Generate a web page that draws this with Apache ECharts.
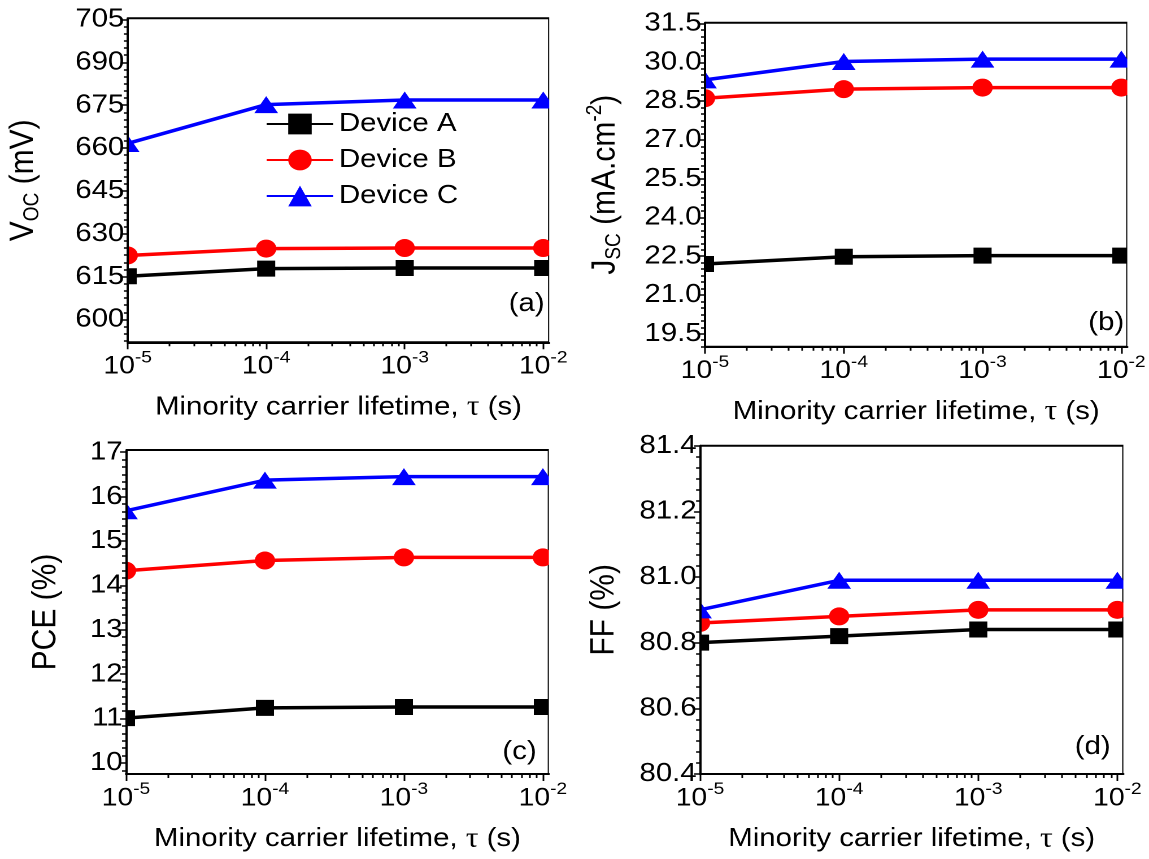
<!DOCTYPE html>
<html>
<head>
<meta charset="utf-8">
<script src="https://cdn.jsdelivr.net/npm/echarts@6/dist/echarts.min.js"></script>
<style>
  html, body { margin: 0; padding: 0; background: #fff; overflow: hidden; }
  #wrap { width: 1149px; height: 859px; overflow: hidden; }
  /* the figure is laid out on a narrower canvas and widened to the page */
  #chart { width: 1017px; height: 859px; transform: scaleX(1.12979); transform-origin: 0 0; }
</style>
</head>
<body>
<div id="wrap"><div id="chart"></div></div>
<script>
// Minority carrier lifetime (s)
const lifetimes = [1e-5, 1e-4, 1e-3, 1e-2];
const deviceNames = ['Device A', 'Device B', 'Device C'];

// (a) open-circuit voltage, mV
const vocA = [615.1, 617.8, 618.0, 618.0];
const vocB = [622.4, 624.8, 625.0, 625.0];
const vocC = [661.6, 675.2, 676.8, 676.8];

// (b) short-circuit current density, mA/cm^2
const jscA = [22.20, 22.48, 22.52, 22.52];
const jscB = [28.61, 28.96, 29.02, 29.02];
const jscC = [29.32, 30.03, 30.12, 30.12];

// (c) power conversion efficiency, %
const pceA = [11.01, 11.24, 11.26, 11.26];
const pceB = [14.33, 14.56, 14.63, 14.63];
const pceC = [15.68, 16.37, 16.45, 16.45];

// (d) fill factor, %
const ffA = [80.80, 80.82, 80.84, 80.84];
const ffB = [80.86, 80.88, 80.90, 80.90];
const ffC = [80.90, 80.99, 80.99, 80.99];

// tick labels
const xMajorExp = [-5, -4, -3, -2];
const vocTicks = [600, 615, 630, 645, 660, 675, 690, 705];
const jscTicks = [19.5, 21.0, 22.5, 24.0, 25.5, 27.0, 28.5, 30.0, 31.5];
const pceTicks = [10, 11, 12, 13, 14, 15, 16, 17];
const ffTicks = [80.4, 80.6, 80.8, 81.0, 81.2, 81.4];

const FONT = 'Liberation Sans, Arial, sans-serif';
const colors = ['#000000', '#ff0000', '#0000ff'];
const symbols = ['rect', 'circle', 'triangle'];
const symbolSizes = [16, 18, [21, 17]];

// panel layout (canvas px)
const panels = [
  { grid: { left: 113.0, top: 18.3, width: 373.1, height: 324 },
    y: { min: 592, max: 705.4, ticks: vocTicks, minorStep: 2.5, dec: 0, gap: 74.5 },
    title: '{m|V}{sub|OC}{m| (mV)}', tag: '(a)', tagPos: [482, 304],
    data: [vocA, vocB, vocC] },
  { grid: { left: 624.0, top: 22.7, width: 373.8, height: 324 },
    y: { min: 19.0, max: 31.53, ticks: jscTicks, minorStep: 0.25, dec: 1, gap: 70.5 },
    title: '{m|J}{sub|SC}{m| (mA.cm}{sup|-2}{m|)}', tag: '(b)', tagPos: [995, 323],
    data: [jscA, jscB, jscC] },
  { grid: { left: 111.5, top: 450, width: 374.3, height: 324 },
    y: { min: 9.75, max: 17.05, ticks: pceTicks, minorStep: 1 / 6, dec: 0, gap: 53 },
    title: '{m|PCE (%)}', tag: '(c)', tagPos: [475, 752],
    data: [pceA, pceB, pceC] },
  { grid: { left: 619.6, top: 445.7, width: 374.7, height: 328.3 },
    y: { min: 80.4, max: 81.4, ticks: ffTicks, minorStep: 0.2 / 6, dec: 1, gap: 67 },
    title: '{m|FF (%)}', tag: '(d)', tagPos: [983, 747],
    data: [ffA, ffB, ffC] }
];

const xMin = -5, xMax = -1.957;
const xMinor = [];
for (let e = -5; e < -2; e++) {
  for (let k = 2; k <= 9; k++) xMinor.push(Math.log10(k * Math.pow(10, e)));
}

function yMinorValues(cfg) {
  const out = [];
  const first = cfg.ticks[0];
  const step = cfg.minorStep;
  for (let i = -20; i < 400; i++) {
    const v = first + i * step;
    if (v < cfg.min - 1e-9 || v > cfg.max + 1e-9) continue;
    out.push(+v.toFixed(6));
  }
  return out;
}

const axisBlack = { color: '#000', width: 2 };
const tickLine = { color: '#000', width: 1.5 };

const grids = [], xAxes = [], yAxes = [], series = [], graphics = [];

const xTitle = '{m|Minority carrier lifetime, }{t|\u03c4}{m| (s)}';

panels.forEach((p, i) => {
  grids.push(Object.assign({
    show: true, borderColor: '#000', borderWidth: 2, backgroundColor: 'transparent'
  }, p.grid));

  // x axis with decade ticks and labels
  xAxes.push({
    type: 'value', gridIndex: i, min: xMin, max: xMax, position: 'bottom', z: 10,
    axisLine: { show: true, onZero: false, lineStyle: axisBlack },
    axisTick: { show: true, length: 7, lineStyle: tickLine, customValues: xMajorExp },
    axisLabel: {
      show: true, customValues: xMajorExp, margin: 7,
      formatter: v => '{b|10}{s|' + Math.round(v) + '}',
      rich: {
        b: { fontSize: 25, fontFamily: FONT, color: '#000', lineHeight: 35 },
        s: { fontSize: 17, fontFamily: FONT, color: '#000', lineHeight: 17, verticalAlign: 'top' }
      }
    },
    splitLine: { show: false },
    name: xTitle, nameLocation: 'middle', nameGap: 50,
    nameTextStyle: {
      rich: {
        m: { fontSize: 26, fontFamily: FONT, color: '#000', lineHeight: 30 },
        t: { fontSize: 28, fontFamily: 'Liberation Serif, serif', color: '#000', lineHeight: 30 }
      }
    }
  });
  // x axis minor ticks (2..9 within each decade)
  xAxes.push({
    type: 'value', gridIndex: i, min: xMin, max: xMax, position: 'bottom', z: 10,
    axisLine: { show: false, onZero: false },
    axisTick: { show: true, length: 4, lineStyle: tickLine, customValues: xMinor },
    axisLabel: { show: false },
    splitLine: { show: false }
  });

  const c = p.y;
  yAxes.push({
    type: 'value', gridIndex: i, min: c.min, max: c.max, position: 'left', z: 10,
    axisLine: { show: true, onZero: false, lineStyle: axisBlack },
    axisTick: { show: true, length: 5.3, lineStyle: tickLine, customValues: c.ticks },
    axisLabel: {
      show: true, customValues: c.ticks, margin: 3,
      fontSize: 26, fontFamily: FONT, color: '#000',
      formatter: v => v.toFixed(c.dec)
    },
    splitLine: { show: false },
    name: p.title, nameLocation: 'middle', nameRotate: 90, nameGap: c.gap,
    nameTextStyle: {
      rich: {
        m: { fontSize: 30, fontFamily: FONT, color: '#000', lineHeight: 36 },
        sub: { fontSize: 19, fontFamily: FONT, color: '#000', lineHeight: 36, verticalAlign: 'bottom' },
        sup: { fontSize: 19, fontFamily: FONT, color: '#000', lineHeight: 36, verticalAlign: 'top' }
      }
    }
  });
  yAxes.push({
    type: 'value', gridIndex: i, min: c.min, max: c.max, position: 'left', z: 10,
    axisLine: { show: false, onZero: false },
    axisTick: { show: true, length: 3.5, lineStyle: tickLine, customValues: yMinorValues(c) },
    axisLabel: { show: false },
    splitLine: { show: false }
  });

  p.data.forEach((vals, k) => {
    series.push({
      type: 'line', name: deviceNames[k],
      xAxisIndex: 2 * i, yAxisIndex: 2 * i,
      data: lifetimes.map((t, j) => [Math.log10(t), vals[j]]),
      symbol: symbols[k], symbolSize: symbolSizes[k],
      lineStyle: { color: colors[k], width: 3.5 },
      itemStyle: { color: colors[k] },
      emphasis: { disabled: true },
      z: 2
    });
  });

  // white masks beside the plot frame keep the edge markers inside it
  const g = p.grid;
  graphics.push({
    type: 'rect', z: 5, silent: true,
    shape: { x: g.left - 14, y: g.top - 14, width: 14, height: g.height + 28 },
    style: { fill: '#fff' }
  });
  graphics.push({
    type: 'rect', z: 5, silent: true,
    shape: { x: g.left + g.width, y: g.top - 14, width: 14, height: g.height + 28 },
    style: { fill: '#fff' }
  });
  graphics.push({
    type: 'text', z: 20, silent: true,
    x: p.tagPos[0], y: p.tagPos[1],
    style: { text: p.tag, fontSize: 26, fontFamily: FONT, fill: '#000', align: 'right', verticalAlign: 'middle' }
  });
});

const chart = echarts.init(document.getElementById('chart'), null, {
  renderer: 'canvas', width: 1017, height: 859, devicePixelRatio: 2
});

chart.setOption({
  backgroundColor: '#fff',
  animation: false,
  grid: grids,
  xAxis: xAxes,
  yAxis: yAxes,
  legend: {
    data: deviceNames, orient: 'vertical', left: 230, top: 106,
    itemWidth: 59, itemHeight: 26, itemGap: 10, selectedMode: false,
    textStyle: { fontSize: 26, fontFamily: FONT, color: '#000' }
  },
  graphic: graphics,
  series: series
});
</script>
</body>
</html>
